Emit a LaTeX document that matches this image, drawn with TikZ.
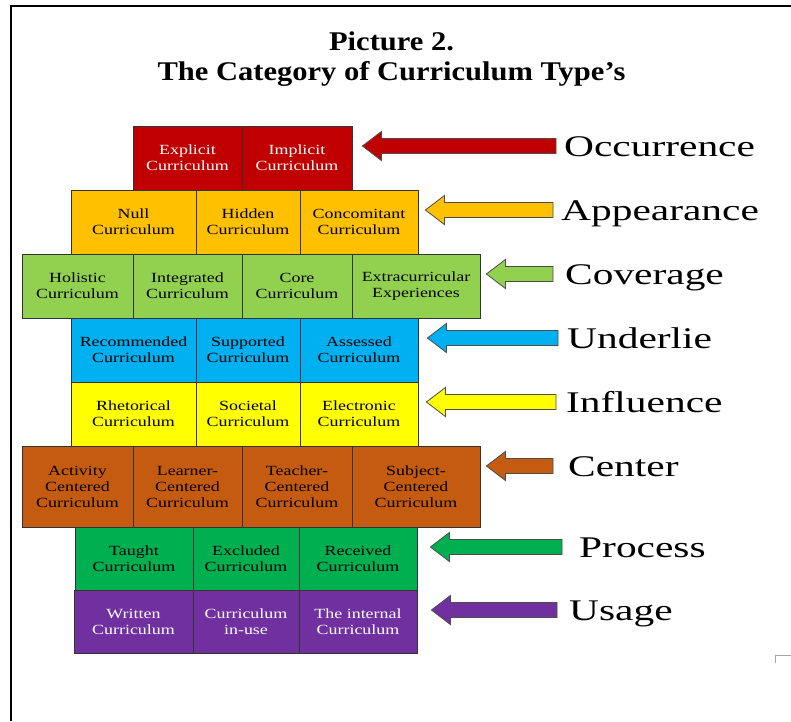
\documentclass[tikz,border=0pt]{standalone}
\usepackage{fontspec}
\setmainfont{Liberation Serif}[FakeStretch=1.28]
\newfontfamily\headfont{Liberation Serif}[FakeStretch=1.13]
\newfontfamily\tagfont{Liberation Serif}[FakeStretch=1.38]
\usetikzlibrary{calc}

\definecolor{occur}{HTML}{C00000}
\definecolor{appear}{HTML}{FFC000}
\definecolor{cover}{HTML}{92D050}
\definecolor{underlie}{HTML}{00B0F0}
\definecolor{influ}{HTML}{FFFF00}
\definecolor{centr}{HTML}{C55A11}
\definecolor{proc}{HTML}{00B050}
\definecolor{usage}{HTML}{7030A0}

\tikzset{
  cell/.style={draw=black!80, line width=0.8pt, align=center, inner sep=0pt,
    font=\fontsize{14}{16}\selectfont},
  tag/.style={anchor=base west, inner sep=0pt, font=\tagfont\fontsize{30}{30}\selectfont},
  head/.style={anchor=base, inner sep=0pt, font=\headfont\bfseries\fontsize{27}{30}\selectfont},
  blockarrow/.style={draw=black!70, line width=0.8pt},
}

% name, fill, x0, x1, y0, y1, text
\newcommand{\cell}[7]{%
  \node[cell, #2, minimum width=#4-#3, minimum height=#6-#5] (#1) at ({(#3+#4)/2},{(#5+#6)/2}) {#7};}

% fill, label, last cell of the row, gap at tip, gap at tail
\newcommand{\blockarrow}[5]{%
  \coordinate (#2-tail) at ($(#2.base west)+(-#5,-10)$);
  \coordinate (#2-tip) at ($(#2-tail -| #3.east)+(#4,0)$);
  \draw[blockarrow, fill=#1] ($(#2-tail)+(0,-7.5)$) -- ($(#2-tip)+(19,-7.5)$) -- ($(#2-tip)+(19,-14.5)$)
    -- (#2-tip) -- ($(#2-tip)+(19,14.5)$) -- ($(#2-tip)+(19,7.5)$) -- ($(#2-tail)+(0,7.5)$) -- cycle;}

\begin{document}
\begin{tikzpicture}[x=1pt, y=-1pt]
  \useasboundingbox (0,0) rectangle (791,721);
  \draw[line width=2.2pt] (11,721) -- (11,6) -- (791,6);
  \draw[black!35, line width=0.8pt] (791,655) -- (775,655) -- (775,663);

  \node[head] (title1) at (391.5,50) {Picture 2.};
  \node[head] (title2) at (391.5,80) {The Category of Curriculum Type’s};

  \cell{expl}{fill=occur, text=white}{133}{242}{126}{190}{Explicit\\Curriculum}
  \cell{impl}{fill=occur, text=white}{242}{352}{126}{190}{Implicit\\Curriculum}

  \cell{null}{fill=appear}{71}{196}{190}{254}{Null\\Curriculum}
  \cell{hidn}{fill=appear}{196}{300}{190}{254}{Hidden\\Curriculum}
  \cell{conc}{fill=appear}{300}{418}{190}{254}{Concomitant\\Curriculum}

  \cell{holi}{fill=cover}{22}{133}{254}{318}{Holistic\\Curriculum}
  \cell{intg}{fill=cover}{133}{242}{254}{318}{Integrated\\Curriculum}
  \cell{core}{fill=cover}{242}{352}{254}{318}{Core\\Curriculum}
  \cell{xtra}{fill=cover}{352}{480}{254}{318}{Extracurricular\\Experiences}

  \cell{recm}{fill=underlie}{71}{196}{318}{382}{Recommended\\Curriculum}
  \cell{supp}{fill=underlie}{196}{300}{318}{382}{Supported\\Curriculum}
  \cell{asse}{fill=underlie}{300}{418}{318}{382}{Assessed\\Curriculum}

  \cell{rhet}{fill=influ}{71}{196}{382}{446}{Rhetorical\\Curriculum}
  \cell{soci}{fill=influ}{196}{300}{382}{446}{Societal\\Curriculum}
  \cell{elec}{fill=influ}{300}{418}{382}{446}{Electronic\\Curriculum}

  \cell{actv}{fill=centr}{22}{133}{446}{527}{Activity\\Centered\\Curriculum}
  \cell{lern}{fill=centr}{133}{242}{446}{527}{Learner-\\Centered\\Curriculum}
  \cell{tchr}{fill=centr}{242}{352}{446}{527}{Teacher-\\Centered\\Curriculum}
  \cell{subj}{fill=centr}{352}{480}{446}{527}{Subject-\\Centered\\Curriculum}

  \cell{tght}{fill=proc}{75}{193}{527}{590}{Taught\\Curriculum}
  \cell{excl}{fill=proc}{193}{299}{527}{590}{Excluded\\Curriculum}
  \cell{recv}{fill=proc}{299}{417}{527}{590}{Received\\Curriculum}

  \cell{writ}{fill=usage, text=white}{74}{193}{590}{653}{Written\\Curriculum}
  \cell{inus}{fill=usage, text=white}{193}{299}{590}{653}{Curriculum\\in-use}
  \cell{intl}{fill=usage, text=white}{299}{417}{590}{653}{The internal\\Curriculum}

  \node[tag] (occ-lbl) at (564,156) {Occurrence};
  \node[tag] (app-lbl) at (561,220) {Appearance};
  \node[tag] (cov-lbl) at (565,284) {Coverage};
  \node[tag] (und-lbl) at (567,348) {Underlie};
  \node[tag] (inf-lbl) at (566,412) {Influence};
  \node[tag] (cen-lbl) at (568,476) {Center};
  \node[tag] (pro-lbl) at (579,557) {Process};
  \node[tag] (usa-lbl) at (569,620) {Usage};

  \blockarrow{occur}{occ-lbl}{impl}{10}{8}
  \blockarrow{appear}{app-lbl}{conc}{7}{8}
  \blockarrow{cover}{cov-lbl}{xtra}{6}{12}
  \blockarrow{underlie}{und-lbl}{asse}{9}{9}
  \blockarrow{influ}{inf-lbl}{elec}{8}{10}
  \blockarrow{centr}{cen-lbl}{subj}{6}{15}
  \blockarrow{proc}{pro-lbl}{recv}{13}{17}
  \blockarrow{usage}{usa-lbl}{intl}{14}{12}
\end{tikzpicture}
\end{document}
